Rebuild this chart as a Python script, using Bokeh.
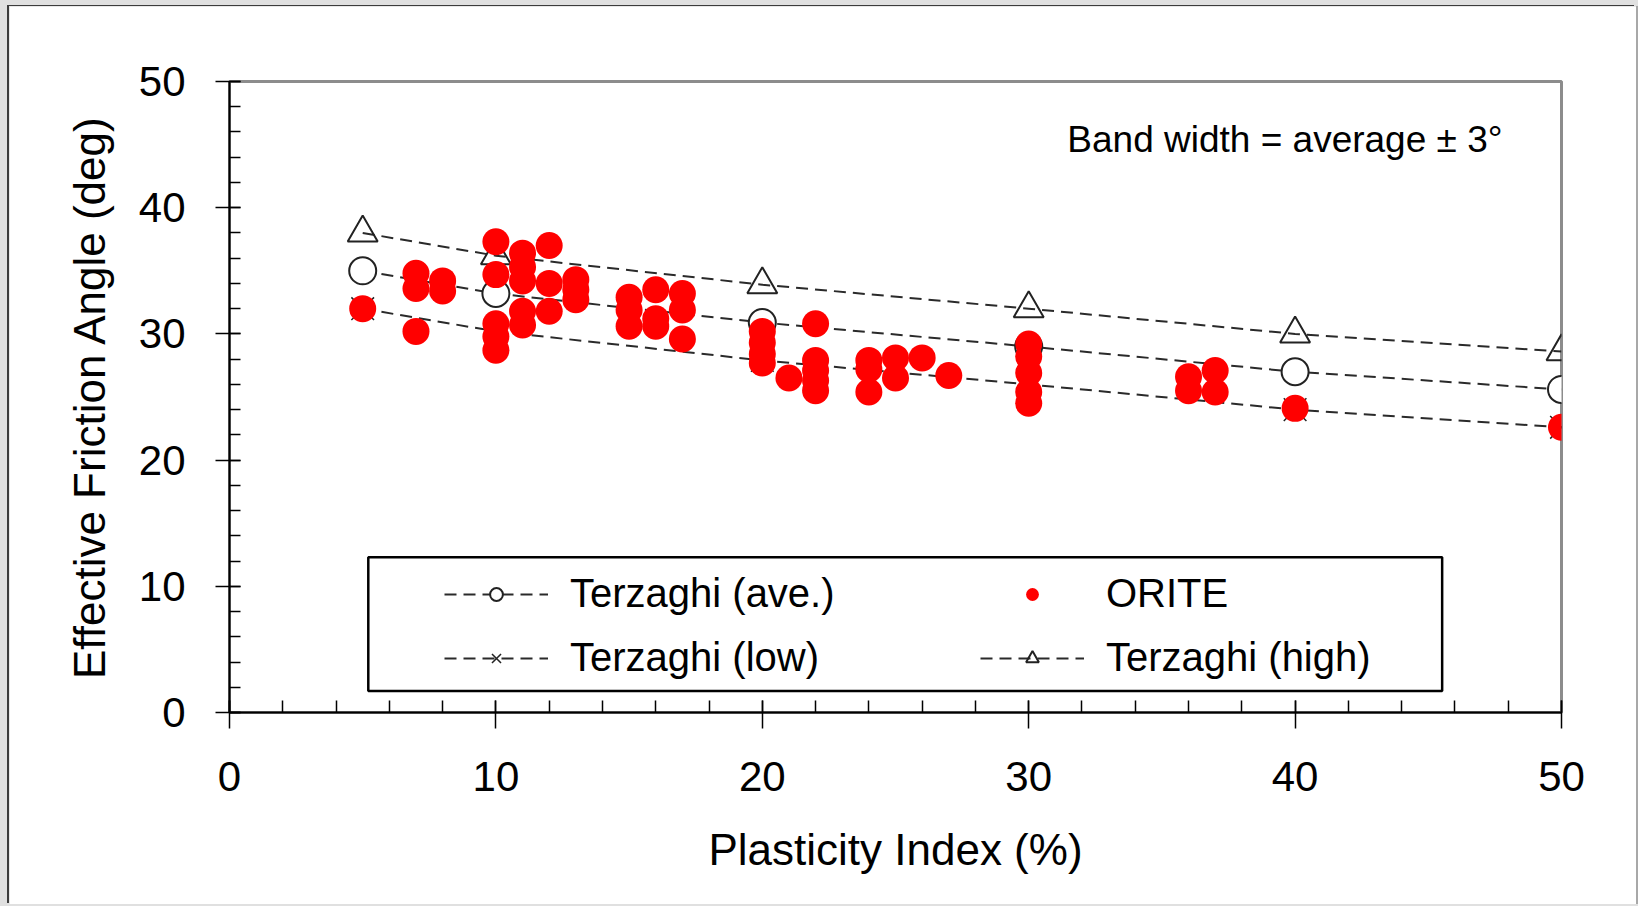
from bokeh.plotting import figure
from bokeh.models import (Range1d, SingleIntervalTicker, Legend, LegendItem,
                          Label, BoxAnnotation)
from bokeh.embed import file_html
from bokeh.resources import INLINE

# ---------------- data ----------------
pi_terzaghi = [5, 10, 20, 30, 40, 50]
phi_ave = [35.0, 33.2, 30.9, 29.0, 27.0, 25.6]
phi_low = [32.0, 30.2, 27.9, 26.0, 24.0, 22.6]
phi_high = [38.0, 36.2, 33.9, 32.0, 30.0, 28.6]

orite_pi = [5,
            7, 7, 7,
            8, 8,
            10, 10, 10, 10, 10,
            11, 11, 11, 11, 11,
            12, 12, 12,
            13, 13, 13,
            15, 15, 15,
            16, 16, 16,
            17, 17, 17,
            20, 20, 20, 20,
            21,
            22, 22, 22, 22, 22,
            24, 24, 24,
            25, 25,
            26,
            27,
            30, 30, 30, 30, 30,
            36, 36,
            37, 37,
            40,
            50]
orite_phi = [32.0,
             34.8, 33.6, 30.2,
             34.2, 33.4,
             37.3, 34.7, 30.8, 29.8, 28.7,
             36.4, 35.3, 34.2, 31.8, 30.7,
             37.0, 34.0, 31.8,
             34.3, 33.5, 32.7,
             32.9, 31.9, 30.6,
             33.5, 31.2, 30.6,
             33.2, 31.9, 29.6,
             30.2, 29.3, 28.4, 27.7,
             26.5,
             30.8, 27.9, 27.1, 26.3, 25.5,
             27.9, 27.2, 25.4,
             28.1, 26.5,
             28.1,
             26.7,
             29.2, 28.2, 26.9, 25.4, 24.5,
             26.6, 25.5,
             27.1, 25.4,
             24.1,
             22.6]

x_range = (0, 50)
y_range = (0, 50)
tick_interval = 10

FONT = "Liberation Sans"
DARK = "#222222"

# ---------------- figure ----------------
p = figure(frame_width=1332, frame_height=631,
           min_border_left=220, min_border_right=75,
           min_border_top=75, min_border_bottom=192,
           x_range=Range1d(*x_range), y_range=Range1d(*y_range),
           output_backend="svg", toolbar_location=None,
           background_fill_color="white", border_fill_color="white")
p.grid.visible = False
p.outline_line_color = "#8c8c8c"
p.outline_line_width = 3

# Terzaghi bands
dash = "12 7"
l_ave = p.line(pi_terzaghi, phi_ave, line_dash=dash, line_color="#2a2a2a", line_width=2)
l_low = p.line(pi_terzaghi, phi_low, line_dash=dash, line_color="#2a2a2a", line_width=2)
l_high = p.line(pi_terzaghi, phi_high, line_dash=dash, line_color="#2a2a2a", line_width=2)
m_ave = p.scatter(pi_terzaghi, phi_ave, marker="circle", size=27,
                  fill_color="white", line_color=DARK, line_width=2)
m_low = p.scatter(pi_terzaghi, phi_low, marker="x", size=32,
                  line_color=DARK, line_width=1.5)
m_high = p.scatter(pi_terzaghi, phi_high, marker="triangle", size=30,
                   fill_alpha=0, line_color=DARK, line_width=2)

# ORITE data
m_orite = p.scatter(orite_pi, orite_phi, marker="circle", size=27,
                    fill_color="#ff0000", line_color=None)

# ---------------- axes ----------------
for ax, tout, tin in ((p.xaxis[0], 16, 12), (p.yaxis[0], 14, 11)):
    ax.ticker = SingleIntervalTicker(interval=tick_interval, num_minor_ticks=5)
    ax.axis_line_color = "black"
    ax.axis_line_width = 2
    ax.major_tick_line_color = "black"
    ax.major_tick_line_width = 1.5
    ax.major_tick_out = tout
    ax.major_tick_in = tin
    ax.minor_tick_line_color = "black"
    ax.minor_tick_line_width = 1.5
    ax.minor_tick_in = tin
    ax.minor_tick_out = 0
    ax.major_label_text_font = FONT
    ax.major_label_text_font_size = "42px"
    ax.major_label_text_color = "black"
    ax.axis_label_text_font = FONT
    ax.axis_label_text_font_size = "44px"
    ax.axis_label_text_font_style = "normal"
    ax.axis_label_text_color = "black"

p.xaxis.axis_label = "Plasticity Index (%)"
p.yaxis.axis_label = "Effective Friction Angle (deg)"
p.xaxis.major_label_standoff = 33
p.yaxis.major_label_standoff = 30
p.xaxis.axis_label_standoff = 31
p.yaxis.axis_label_standoff = 22

# ---------------- annotation ----------------
p.add_layout(Label(x=31.45, y=45.4, text="Band width = average ± 3°",
                   text_font=FONT, text_font_size="37px",
                   text_baseline="middle", text_color="black"))

# ---------------- legend ----------------
p.add_layout(BoxAnnotation(left=5.21, right=45.52, bottom=1.70, top=12.30,
                           fill_color="white", fill_alpha=1,
                           line_color="black", line_alpha=1, line_width=2.5,
                           level="annotation"))

legend = Legend(items=[
    LegendItem(label="Terzaghi (ave.)", renderers=[l_ave, m_ave]),
    LegendItem(label="ORITE", renderers=[m_orite]),
    LegendItem(label="Terzaghi (low)", renderers=[l_low, m_low]),
    LegendItem(label="Terzaghi (high)", renderers=[l_high, m_high]),
], location=(215, 32), orientation="horizontal", ncols=2,
   glyph_width=104, glyph_height=32, label_standoff=22, label_width=391,
   spacing=19, padding=0, margin=0,
   border_line_alpha=0, background_fill_alpha=0,
   label_text_font=FONT, label_text_font_size="40px", label_text_color="black")
p.add_layout(legend)

html = file_html(p, INLINE, title="Effective friction angle vs plasticity index")
css = ("<style>html, body {background:#e0e0e0 !important;}"
       "body {padding:6px 0 0 9px !important; overflow:hidden;}"
       "body > div > div {box-shadow:-2px -1px 0 0 #3c3c3c, 2px 0 0 0 #a8a8a8;}</style>")
html = html.replace("</head>", css + "</head>", 1)
open("out.html", "w").write(html)
